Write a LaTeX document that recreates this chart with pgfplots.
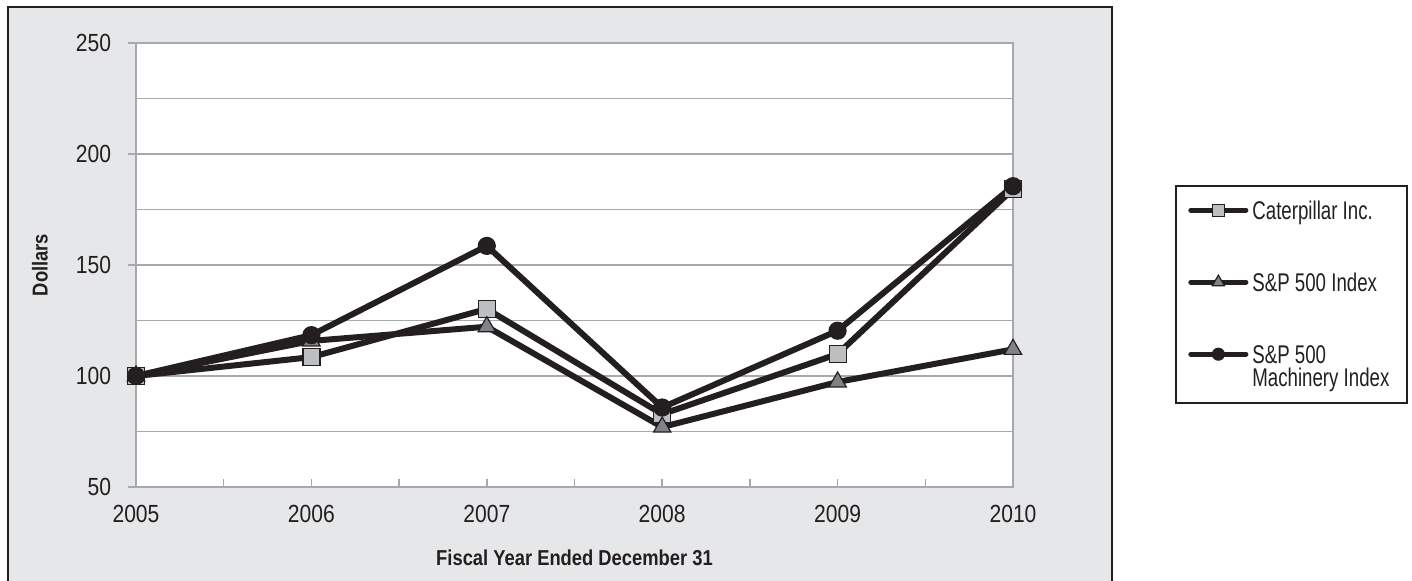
\documentclass[border=0pt]{standalone}
\usepackage{fontspec}
\setmainfont{Liberation Sans}[FakeStretch=0.85]
\newfontfamily\legfont{Liberation Sans}[FakeStretch=0.73]
\usepackage{pgfplots}
\pgfplotsset{compat=1.18}
\definecolor{lineblk}{HTML}{231F20}
\definecolor{bgray}{HTML}{E6E7E8}
\definecolor{sqfill}{HTML}{BCBEC0}
\definecolor{trfill}{HTML}{808285}
\definecolor{gridc}{HTML}{A7A9AC}
\begin{document}
\begin{tikzpicture}
\useasboundingbox (0,0) rectangle (706pt,290.5pt);
\draw[line width=1.2pt, draw=lineblk, fill=bgray] (4pt,287pt) rectangle (556pt,-10pt);
\begin{axis}[
  at={(68pt,47pt)}, anchor=south west, scale only axis,
  width=438.5pt, height=222pt,
  xmin=2005, xmax=2010, ymin=50, ymax=250,
  axis background/.style={fill=white},
  axis line style={draw=gridc, line width=0.8pt},
  xtick={2005,2005.5,...,2010},
  xticklabels={2005,,2006,,2007,,2008,,2009,,2010},
  ytick={50,100,...,250}, minor ytick={75,125,175,225},
  ymajorgrids, yminorgrids,
  major grid style={draw=gridc, line width=0.7pt},
  minor grid style={draw=gridc, line width=0.7pt},
  tick align=inside, major tick length=4pt, minor tick length=0pt,
  tick style={draw=gridc, line width=0.7pt},
  every major y tick/.append style={xshift=-4pt},
  xtick pos=bottom, ytick pos=left,
  /pgf/number format/assume math mode=true,
  ticklabel style={font=\fontsize{12.4}{14}\selectfont, text=lineblk},
  yticklabel style={xshift=-8.9pt},
  xticklabel style={yshift=-5.6pt},
  xlabel={Fiscal Year Ended December 31},
  ylabel={Dollars},
  label style={font=\bfseries\fontsize{10.8}{13}\selectfont, text=lineblk},
  xlabel style={at={(axis description cs:0.5,-0.16)}, anchor=center},
  ylabel style={at={(axis description cs:-0.1095,0.5)}, anchor=center},
  every axis plot/.append style={line width=3pt, draw=lineblk},
  legend image code/.code={\draw[mark repeat=2, mark phase=2, line cap=round, #1, line width=2.5pt, every mark/.append style={scale=0.7}] plot coordinates {(1.25pt,0pt)(15pt,0pt)(28.75pt,0pt)};},
  legend style={at={(1.1995,0.645)}, anchor=north west, draw=none, fill=none,
    font=\legfont\fontsize{12.8}{13}\selectfont, text=lineblk,
    inner xsep=0pt, inner ysep=0pt, row sep=26.8pt, column sep=0pt,
    nodes={inner ysep=0pt, inner xsep=2pt, text height=9.2pt, text depth=0pt},
    cells={anchor=west}},
]
\addplot[mark=square*, mark size=4.25pt, mark options={fill=sqfill, draw=lineblk, line width=0.6pt}]
  coordinates {(2005,100) (2006,108.5) (2007,130.2) (2008,82.8) (2009,109.9) (2010,184.2)};
\addlegendentry{Caterpillar Inc.}
\addplot[mark=triangle*, mark size=5pt, mark options={fill=trfill, draw=lineblk, line width=0.6pt}]
  coordinates {(2005,100) (2006,115.8) (2007,122.2) (2008,77.0) (2009,97.3) (2010,112.0)};
\addlegendentry{S\&P 500 Index}
\addplot[mark=*, mark size=4.25pt, mark options={fill=lineblk, draw=lineblk, line width=0.6pt}]
  coordinates {(2005,100) (2006,118.4) (2007,158.6) (2008,85.8) (2009,120.4) (2010,185.5)};
\addlegendentry{\begin{tabular}[t]{@{}l@{}}S\&P 500\\[-1.5pt]Machinery Index\end{tabular}}
\end{axis}
\draw[lineblk, line width=0.7pt] (588pt,89pt) rectangle (703.5pt,197.5pt);
\end{tikzpicture}
\end{document}
